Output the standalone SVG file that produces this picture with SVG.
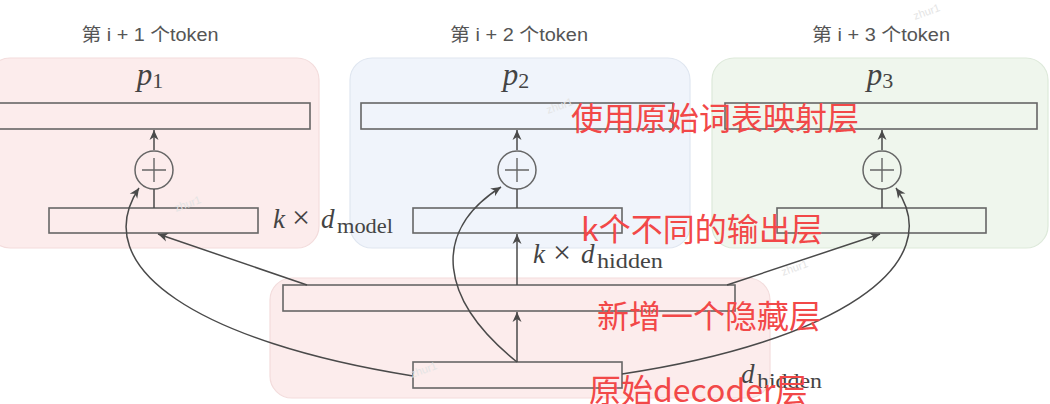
<svg xmlns="http://www.w3.org/2000/svg" width="1050" height="404" viewBox="0 0 1050 404">
<defs>
<style>
.bar{fill:none;stroke:#666;stroke-width:1.6}
.ln{fill:none;stroke:#4a4a4a;stroke-width:1.5}
.cap{font-family:"Liberation Sans","Noto Sans CJK SC",sans-serif;font-size:18px;fill:#555;text-anchor:middle}
.math{font-family:"Liberation Serif","DejaVu Serif",serif;fill:#444}
.red{font-family:"Noto Sans CJK SC","Liberation Sans",sans-serif;font-size:32px;fill:#f24848}
.wm{font-family:"Liberation Sans",sans-serif;font-size:11px;fill:#e4e4e4}
</style>
<marker id="ah" viewBox="-11 -5 12 10" refX="0" refY="0" markerWidth="12" markerHeight="10" markerUnits="userSpaceOnUse" orient="auto">
<path d="M0,0 L-10,-4.5 L-7,0 L-10,4.5 Z" fill="#4a4a4a"/>
</marker>
</defs>
<rect width="1050" height="404" fill="#ffffff"/>

<g id="panel1">
<rect x="-12" y="58" width="331" height="190" rx="22" fill="#fcecec" stroke="#f3dcdc" stroke-width="1.2"/>
<text class="cap" x="150" y="41" textLength="137" lengthAdjust="spacingAndGlyphs">第 i + 1 个token</text>
<text class="math" x="150" y="85" font-size="31" font-style="italic" text-anchor="middle">p<tspan font-style="normal" font-size="22" dy="3">1</tspan></text>
<rect class="bar" x="-2" y="103" width="312" height="26"/>
<circle cx="154" cy="170" r="19" fill="none" stroke="#666" stroke-width="1.5"/>
<path d="M142,170 H166 M154,158 V182" stroke="#666" stroke-width="1.4"/>
<rect class="bar" x="49" y="208" width="209" height="25"/>
</g>

<g id="panel2">
<rect x="350" y="58" width="340" height="190" rx="22" fill="#f0f4fb" stroke="#dfe6f0" stroke-width="1.2"/>
<text class="cap" x="519" y="41" textLength="138" lengthAdjust="spacingAndGlyphs">第 i + 2 个token</text>
<text class="math" x="516" y="85" font-size="31" font-style="italic" text-anchor="middle">p<tspan font-style="normal" font-size="22" dy="3">2</tspan></text>
<rect class="bar" x="361" y="103" width="312" height="26"/>
<circle cx="517" cy="170" r="19" fill="none" stroke="#666" stroke-width="1.5"/>
<path d="M505,170 H529 M517,158 V182" stroke="#666" stroke-width="1.4"/>
<rect class="bar" x="413" y="208" width="209" height="25"/>
</g>

<g id="panel3">
<rect x="712" y="58" width="336" height="190" rx="22" fill="#eff6ed" stroke="#dde9da" stroke-width="1.2"/>
<text class="cap" x="881" y="41" textLength="138" lengthAdjust="spacingAndGlyphs">第 i + 3 个token</text>
<text class="math" x="880" y="85" font-size="31" font-style="italic" text-anchor="middle">p<tspan font-style="normal" font-size="22" dy="3">3</tspan></text>
<rect class="bar" x="725" y="103" width="312" height="26"/>
<circle cx="882" cy="170" r="19" fill="none" stroke="#666" stroke-width="1.5"/>
<path d="M870,170 H894 M882,158 V182" stroke="#666" stroke-width="1.4"/>
<rect class="bar" x="777" y="208" width="209" height="25"/>
</g>

<g id="hidden-panel">
<rect x="270" y="278" width="500" height="120" rx="22" fill="#fcecec" stroke="#f3dcdc" stroke-width="1.2"/>
<rect id="hidden-layer" class="bar" x="283" y="285" width="452" height="26"/>
<rect id="decoder-layer" class="bar" x="413" y="362" width="209" height="26"/>
</g>

<g id="dimension-labels">
<text class="math" font-size="27"><tspan x="273" y="228" font-style="italic">k</tspan><tspan x="292" y="228" font-size="32">×</tspan><tspan x="321" y="228" font-style="italic">d</tspan><tspan x="337" y="233" font-size="20" textLength="56" lengthAdjust="spacingAndGlyphs">model</tspan></text>
<text class="math" font-size="27"><tspan x="533" y="263" font-style="italic">k</tspan><tspan x="553" y="263" font-size="32">×</tspan><tspan x="581" y="263" font-style="italic">d</tspan><tspan x="597" y="268" font-size="20" textLength="66" lengthAdjust="spacingAndGlyphs">hidden</tspan></text>
<text class="math" font-size="27"><tspan x="741" y="383" font-style="italic">d</tspan><tspan x="757" y="388" font-size="20" textLength="65" lengthAdjust="spacingAndGlyphs">hidden</tspan></text>
</g>

<g id="connectors">
<line class="ln" x1="154" y1="150" x2="154" y2="130" marker-end="url(#ah)"/>
<line class="ln" x1="517" y1="150" x2="517" y2="130" marker-end="url(#ah)"/>
<line class="ln" x1="882" y1="150" x2="882" y2="130" marker-end="url(#ah)"/>
<line class="ln" x1="154" y1="208" x2="154" y2="189"/>
<line class="ln" x1="517" y1="208" x2="517" y2="189"/>
<line class="ln" x1="882" y1="208" x2="882" y2="189"/>
<line class="ln" x1="517" y1="362" x2="517" y2="312" marker-end="url(#ah)"/>
<line class="ln" x1="517" y1="285" x2="517" y2="234" marker-end="url(#ah)"/>
<line class="ln" x1="307" y1="285" x2="158" y2="234" marker-end="url(#ah)"/>
<line class="ln" x1="727" y1="285" x2="880" y2="234" marker-end="url(#ah)"/>
<path class="ln" d="M413,376 C200,342 86,268 139,188" marker-end="url(#ah)"/>
<path class="ln" d="M622,374 C835,342 950,265 896,188" marker-end="url(#ah)"/>
<path class="ln" d="M517,362 C440,300 430,232 501,187" marker-end="url(#ah)"/>
</g>

<g id="annotations">
<text class="red" x="571" y="130">使用原始词表映射层</text>
<text class="red" x="581" y="241">k个不同的输出层</text>
<text class="red" x="597" y="328">新增一个隐藏层</text>
<text class="red" x="589" y="402">原始decoder层</text>
</g>

<g id="watermarks">
<text class="wm" x="548" y="114" transform="rotate(-20 548 114)">zhur1</text>
<text class="wm" x="176" y="212" transform="rotate(-20 176 212)">zhur1</text>
<text class="wm" x="915" y="20" transform="rotate(-20 915 20)">zhur1</text>
<text class="wm" x="412" y="378" transform="rotate(-20 412 378)">zhur1</text>
<text class="wm" x="783" y="276" transform="rotate(-20 783 276)">zhur1</text>
</g>
</svg>
